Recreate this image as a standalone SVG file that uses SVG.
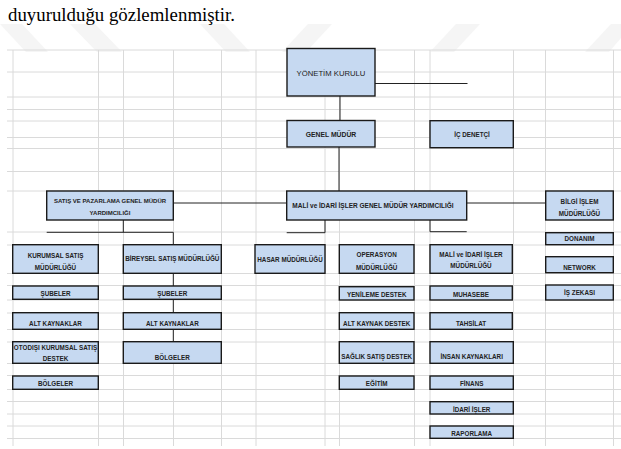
<svg xmlns="http://www.w3.org/2000/svg" width="621" height="449" viewBox="0 0 621 449">
<style>
.grid line{stroke:#dadada;stroke-width:1}
.wm{fill:#f5f5f5}
.box{fill:#c6d9f1;stroke:#1a1a1a;stroke-width:1.4}
.t{font-family:"Liberation Sans",Arial,sans-serif;font-size:6.3px;font-weight:bold;fill:#222;text-anchor:middle}
.conn{fill:none;stroke:#222;stroke-width:1}
</style>
<rect width="621" height="449" fill="#fff"/>
<g id="watermark">
<polygon class="wm" points="0,24 22,24 48,52 26,52"/>
<polygon class="wm" points="70,24 95,24 122,52 97,52"/>
<polygon class="wm" points="200,24 224,24 250,52 226,52"/>
<polygon class="wm" points="282,52 306,52 332,24 308,24"/>
<polygon class="wm" points="430,52 454,52 480,24 456,24"/>
<polygon class="wm" points="585,52 609,52 621,38 621,24 611,24"/>
</g>
<text x="8" y="20.5" font-family="'Liberation Serif','Times New Roman',serif" font-size="18.5" fill="#000" textLength="227" lengthAdjust="spacingAndGlyphs">duyurulduğu gözlemlenmiştir.</text>
<g class="grid">
<line x1="7" y1="50" x2="621" y2="50"/>
<line x1="7" y1="72" x2="621" y2="72"/>
<line x1="7" y1="97" x2="621" y2="97"/>
<line x1="7" y1="109.5" x2="621" y2="109.5"/>
<line x1="7" y1="121" x2="621" y2="121"/>
<line x1="7" y1="137.5" x2="621" y2="137.5"/>
<line x1="7" y1="148.5" x2="621" y2="148.5"/>
<line x1="7" y1="171.5" x2="621" y2="171.5"/>
<line x1="7" y1="191" x2="621" y2="191"/>
<line x1="7" y1="232" x2="621" y2="232"/>
<line x1="7" y1="245" x2="621" y2="245"/>
<line x1="7" y1="273.5" x2="621" y2="273.5"/>
<line x1="7" y1="285.5" x2="621" y2="285.5"/>
<line x1="7" y1="300" x2="621" y2="300"/>
<line x1="7" y1="313" x2="621" y2="313"/>
<line x1="7" y1="329.5" x2="621" y2="329.5"/>
<line x1="7" y1="342" x2="621" y2="342"/>
<line x1="7" y1="363.5" x2="621" y2="363.5"/>
<line x1="7" y1="375.5" x2="621" y2="375.5"/>
<line x1="7" y1="389.5" x2="621" y2="389.5"/>
<line x1="7" y1="401.5" x2="621" y2="401.5"/>
<line x1="7" y1="414" x2="621" y2="414"/>
<line x1="7" y1="426" x2="621" y2="426"/>
<line x1="7" y1="438.5" x2="621" y2="438.5"/>
<line x1="13" y1="50" x2="13" y2="446"/>
<line x1="98.5" y1="50" x2="98.5" y2="446"/>
<line x1="123.5" y1="50" x2="123.5" y2="446"/>
<line x1="173.5" y1="50" x2="173.5" y2="446"/>
<line x1="221.5" y1="50" x2="221.5" y2="446"/>
<line x1="256" y1="50" x2="256" y2="446"/>
<line x1="325" y1="50" x2="325" y2="446"/>
<line x1="339.5" y1="50" x2="339.5" y2="446"/>
<line x1="414.5" y1="50" x2="414.5" y2="446"/>
<line x1="430" y1="50" x2="430" y2="446"/>
<line x1="513.5" y1="50" x2="513.5" y2="446"/>
<line x1="545.5" y1="50" x2="545.5" y2="446"/>
<line x1="613.5" y1="50" x2="613.5" y2="446"/>
</g>
<g id="connectors">
<path class="conn" d="M375,83.5 H467.5"/>
<path class="conn" d="M340,96 V120.5"/>
<path class="conn" d="M339,147 V191"/>
<path class="conn" d="M173.3,203 H286.7"/>
<path class="conn" d="M466.7,203 H545.7"/>
<path class="conn" d="M123.3,220 V232.3"/>
<path class="conn" d="M46.7,232.3 H173.3 V244.7"/>
<path class="conn" d="M173.3,273.3 V286"/>
<path class="conn" d="M173.3,299.3 V312.7"/>
<path class="conn" d="M173.3,329.3 V341.7"/>
<path class="conn" d="M325,220 V232.7 H286.7"/>
<path class="conn" d="M430,220 V231.7 H466.7"/>
</g>
<g id="yonetim-kurulu"><rect class="box" x="287" y="48.5" width="88" height="47.5"/><text class="t" x="331" y="76.3" style="font-size:7.7px;font-weight:normal">YÖNETİM KURULU</text></g>
<g id="genel-mudur"><rect class="box" x="287" y="120.5" width="88" height="26.5"/><text class="t" x="331" y="137.4" style="font-size:6.8px">GENEL MÜDÜR</text></g>
<g id="ic-denetci"><rect class="box" x="430" y="120.7" width="83.3" height="27"/><text class="t" x="472" y="136.6">İÇ DENETÇİ</text></g>
<g id="satis-gmy"><rect class="box" x="46.7" y="191" width="126.6" height="29"/><text class="t" x="110" y="203" style="font-size:6px">SATIŞ VE PAZARLAMA GENEL MÜDÜR</text><text class="t" x="110" y="214.6" style="font-size:6px">YARDIMCILIĞI</text></g>
<g id="mali-gmy"><rect class="box" x="286.7" y="191" width="180" height="29"/><text class="t" x="373" y="208.3" style="font-size:6.5px">MALİ ve İDARİ İŞLER GENEL MÜDÜR YARDIMCILIĞI</text></g>
<g id="bilgi-islem"><rect class="box" x="545.7" y="191" width="67.6" height="29"/><text class="t" x="579.5" y="204">BİLGİ İŞLEM</text><text class="t" x="579.5" y="215.6">MÜDÜRLÜĞÜ</text></g>
<g id="donanim"><rect class="box" x="545.7" y="232.7" width="67.6" height="12"/><text class="t" x="579.5" y="240.8">DONANIM</text></g>
<g id="network"><rect class="box" x="545.7" y="256.7" width="67.6" height="16"/><text class="t" x="579.5" y="270">NETWORK</text></g>
<g id="is-zekasi"><rect class="box" x="545.7" y="285" width="67.6" height="15"/><text class="t" x="579.5" y="295">İŞ ZEKASI</text></g>
<g id="kurumsal-satis"><rect class="box" x="12.7" y="244.7" width="85.6" height="28.6"/><text class="t" x="55.5" y="258.3">KURUMSAL SATIŞ</text><text class="t" x="55.5" y="269.6">MÜDÜRLÜĞÜ</text></g>
<g id="bireysel-satis"><rect class="box" x="123.3" y="244.7" width="98" height="28.6"/><text class="t" x="172.3" y="260.6">BİREYSEL SATIŞ MÜDÜRLÜĞÜ</text></g>
<g id="hasar"><rect class="box" x="255" y="244.7" width="70" height="28.6"/><text class="t" x="290" y="262.3">HASAR MÜDÜRLÜĞÜ</text></g>
<g id="operasyon"><rect class="box" x="339.3" y="244.7" width="74.7" height="28.6"/><text class="t" x="376.7" y="257.3">OPERASYON</text><text class="t" x="376.7" y="270">MÜDÜRLÜĞÜ</text></g>
<g id="mali-mudurluk"><rect class="box" x="430" y="244.7" width="82.3" height="28.6"/><text class="t" x="471" y="257.3">MALİ ve İDARİ İŞLER</text><text class="t" x="471" y="268.3">MÜDÜRLÜĞÜ</text></g>
<g id="subeler-1"><rect class="box" x="12.7" y="286" width="85.6" height="13.3"/><text class="t" x="55.5" y="296.3">ŞUBELER</text></g>
<g id="alt-kaynaklar-1"><rect class="box" x="12.7" y="312.7" width="85.6" height="16.6"/><text class="t" x="55.5" y="325.6">ALT KAYNAKLAR</text></g>
<g id="otodisi"><rect class="box" x="12.7" y="341.7" width="85.6" height="21.6"/><text class="t" x="55.5" y="349.6">OTODIŞI KURUMSAL SATIŞ</text><text class="t" x="55.5" y="361.3">DESTEK</text></g>
<g id="bolgeler-1"><rect class="box" x="12.7" y="376" width="85.6" height="13.3"/><text class="t" x="55.5" y="385.6">BÖLGELER</text></g>
<g id="subeler-2"><rect class="box" x="123.3" y="286" width="98" height="13.3"/><text class="t" x="172.3" y="296.3">ŞUBELER</text></g>
<g id="alt-kaynaklar-2"><rect class="box" x="123.3" y="312.7" width="98" height="16.6"/><text class="t" x="172.3" y="325.6">ALT KAYNAKLAR</text></g>
<g id="bolgeler-2"><rect class="box" x="123.3" y="341.7" width="98" height="21.6"/><text class="t" x="172.3" y="359.6">BÖLGELER</text></g>
<g id="yenileme-destek"><rect class="box" x="339.3" y="286.7" width="74.7" height="13.3"/><text class="t" x="376.7" y="296.6">YENİLEME DESTEK</text></g>
<g id="alt-kaynak-destek"><rect class="box" x="339.3" y="312.7" width="74.7" height="16.6"/><text class="t" x="376.7" y="325.6">ALT KAYNAK DESTEK</text></g>
<g id="saglik-satis-destek"><rect class="box" x="339.3" y="341.7" width="74.7" height="21.6"/><text class="t" x="376.7" y="359">SAĞLIK SATIŞ DESTEK</text></g>
<g id="egitim"><rect class="box" x="339.3" y="376" width="74.7" height="13.3"/><text class="t" x="376.7" y="385.6">EĞİTİM</text></g>
<g id="muhasebe"><rect class="box" x="430" y="286" width="82.3" height="14"/><text class="t" x="471" y="297.3">MUHASEBE</text></g>
<g id="tahsilat"><rect class="box" x="430" y="312.7" width="82.3" height="16.6"/><text class="t" x="471" y="325.6">TAHSİLAT</text></g>
<g id="insan-kaynaklari"><rect class="box" x="430" y="341.7" width="83.3" height="21.6"/><text class="t" x="471.7" y="359">İNSAN KAYNAKLARI</text></g>
<g id="finans"><rect class="box" x="430" y="376" width="83.3" height="13.3"/><text class="t" x="471.7" y="385.6">FİNANS</text></g>
<g id="idari-isler"><rect class="box" x="430" y="401.7" width="83.3" height="12.3"/><text class="t" x="471.7" y="411.6">İDARİ İŞLER</text></g>
<g id="raporlama"><rect class="box" x="430" y="426" width="83.3" height="12.3"/><text class="t" x="471.7" y="436.3">RAPORLAMA</text></g>
</svg>
